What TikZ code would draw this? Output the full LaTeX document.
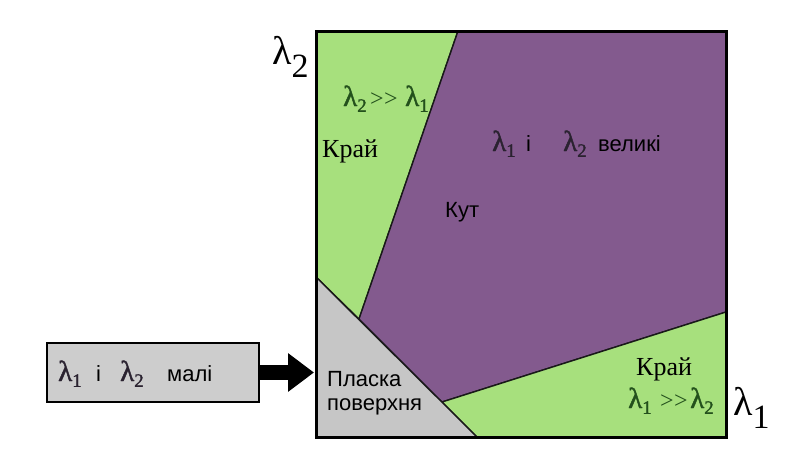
\documentclass[tikz,border=0pt]{standalone}
\usepackage{fontspec}
\setmainfont{Liberation Serif}
\setsansfont{Liberation Sans}
\newfontfamily\lamfont[FakeBold=1.5]{Liberation Serif}
\usetikzlibrary{arrows.meta}
\definecolor{zelenyi}{HTML}{A7E07D}
\definecolor{fioletovyi}{HTML}{835A8E}
\definecolor{siryi1}{HTML}{C6C6C6}
\definecolor{siryi2}{HTML}{CDCDCD}
\definecolor{temnozelenyi}{HTML}{23501C}
\definecolor{temnyi}{HTML}{2A2230}
\newcommand\lam[1]{{\lamfont\fontsize{29}{32}\selectfont λ\raisebox{-0.2em}{\scalebox{0.65}{#1}}}}
\newcommand\lamvis[1]{{\rmfamily\fontsize{40}{44}\selectfont λ\raisebox{-0.33em}{\scalebox{0.85}{#1}}}}
\newcommand\bilshe{{\rmfamily\fontsize{24}{26}\selectfont >\kern0.5pt>}}

\begin{document}
\begin{tikzpicture}[x=1pt,y=-1pt,
    mezha/.style={draw=black!90,line width=1.4pt,line join=round},
    napys/.style={inner sep=0pt,anchor=base west},
    sans/.style={font=\sffamily\fontsize{22}{26}\selectfont},
    krai/.style={font=\rmfamily\fontsize{26}{30}\selectfont},
    strilka/.style={line width=15pt,-{Triangle[width=37pt,length=26pt]}}]
    \useasboundingbox (0,0) rectangle (812,459);
    \coordinate (a) at (316,31);
    \coordinate (b) at (726,31);
    \coordinate (c) at (726,437);
    \coordinate (d) at (316,437);
    \coordinate (p1) at (458,31);
    \coordinate (p2) at (359,319);
    \coordinate (p3) at (442,402);
    \coordinate (p4) at (726,312);
    \coordinate (g1) at (316,277);
    \coordinate (g2) at (477,437);
    % oblasti
    \draw[mezha,fill=zelenyi] (a) -- (p1) -- (p2) -- (g1) -- cycle;
    \draw[mezha,fill=fioletovyi] (p1) -- (b) -- (p4) -- (p3) -- (p2) -- cycle;
    \draw[mezha,fill=zelenyi] (p3) -- (p4) -- (c) -- (g2) -- cycle;
    \draw[mezha,fill=siryi1] (g1) -- (g2) -- (d) -- cycle;
    \draw[line width=3pt] (a) rectangle (c);
    % osi
    \node[napys] (vis2) at (272,64) {\lamvis{2}};
    \node[napys] (vis1) at (733,415) {\lamvis{1}};
    % napysy
    \node[napys,text=temnozelenyi] (krai2) at (343,106)
        {\makebox[27pt][l]{\lam{2}}\makebox[35pt][l]{\bilshe}\lam{1}};
    \node[napys,krai] (krai2t) at (322,157) {Край};
    \node[napys,sans,text=temnyi] (velyki) at (492,151)
        {\makebox[34pt][l]{\lam{1}}\makebox[37pt][l]{\color{black}і}\makebox[35pt][l]{\lam{2}}\color{black}великі};
    \node[napys,sans] (kut) at (445,217) {Кут};
    \node[napys,sans] (plaska) at (327,386) {Пласка};
    \node[napys,sans] (poverkhnia) at (327,410) {поверхня};
    \node[napys,krai] (krai1t) at (636,375) {Край};
    \node[napys,text=temnozelenyi] (krai1) at (628,408)
        {\makebox[32pt][l]{\lam{1}}\makebox[30pt][l]{\bilshe}\lam{2}};
    % mali
    \node[draw,line width=2.5pt,fill=siryi2,minimum width=212pt,minimum height=59pt,
        inner sep=0pt] (mali) at (153,372.5) {};
    \node[napys,sans,text=temnyi] (malitxt) at (58,381)
        {\makebox[38pt][l]{\lam{1}}\makebox[24pt][l]{\color{black}і}\makebox[47pt][l]{\lam{2}}\color{black}малі};
    \coordinate (vhid) at (314,372.5);
    \draw[strilka] (mali.east) -- (vhid);
\end{tikzpicture}
\end{document}
